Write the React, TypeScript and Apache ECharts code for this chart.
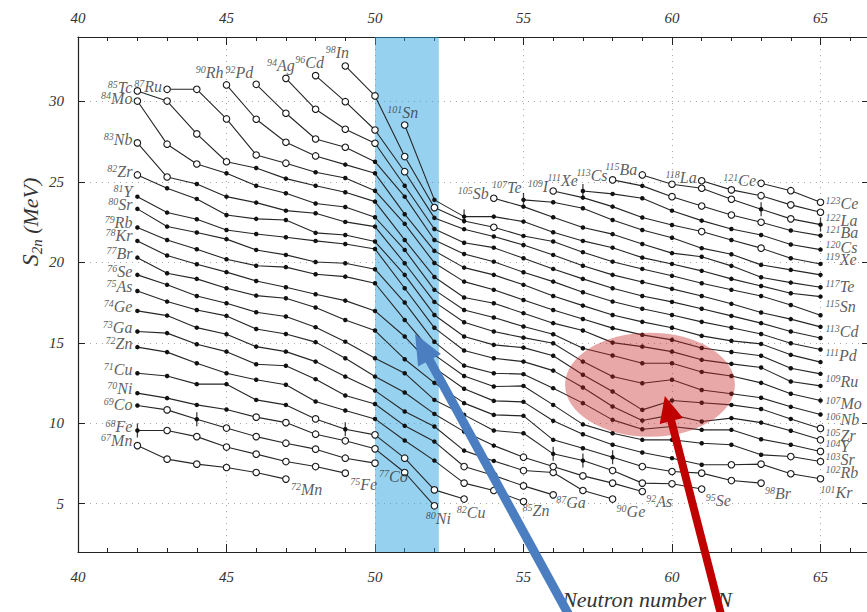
import { useEffect, useRef } from 'react';
import * as echarts from 'echarts';

const SERIF = '"Liberation Serif", "DejaVu Serif", serif';

// ---- isotopic chains ----
const elementSymbols = ['Mn','Fe','Co','Ni','Cu','Zn','Ga','Ge','As','Se','Br','Kr','Rb','Sr','Y','Zr','Nb','Mo','Tc','Ru','Rh','Pd','Ag','Cd','In','Sn','Sb','Te','I','Xe','Cs','Ba','La','Ce'];
const protonNumbers = [25,26,27,28,29,30,31,32,33,34,35,36,37,38,39,40,41,42,43,44,45,46,47,48,49,50,51,52,53,54,55,56,57,58];
const firstNeutronNumber = [42,42,42,42,42,42,42,42,42,42,42,42,42,42,42,42,42,42,42,43,45,46,47,48,49,51,54,55,56,57,58,59,61,63];

// S2n (MeV), one value per neutron number starting at firstNeutronNumber
const s2nMn = [8.61, 7.77, 7.46, 7.25, 6.94, 6.53];
const s2nFe = [9.55, 9.55, 9.17, 8.52, 8.08, 7.62, 7.31, 6.90];
const s2nCo = [11.10, 10.83, 10.25, 9.70, 9.17, 8.76, 8.39, 7.83, 7.52];
const s2nNi = [11.87, 11.56, 11.14, 10.85, 10.38, 10.04, 9.32, 8.91, 8.41, 6.94, 4.87];
const s2nCu = [13.11, 12.94, 12.43, 12.43, 11.45, 11.14, 10.27, 9.63, 9.28, 7.83, 5.86, 5.29];
const s2nZn = [14.73, 14.42, 13.73, 13.11, 12.70, 12.39, 11.35, 10.79, 10.27, 8.93, 7.68, 6.28, 5.82, 5.14];
const s2nGa = [15.70, 15.60, 14.91, 14.45, 13.67, 13.57, 12.74, 11.72, 11.20, 9.84, 8.86, 7.31, 6.75, 6.11, 5.55];
const s2nGe = [16.98, 16.69, 15.94, 15.53, 14.76, 14.45, 13.83, 12.90, 12.03, 10.73, 9.80, 8.30, 7.66, 7.06, 6.94, 5.82, 5.29];
const s2nAs = [18.22, 17.56, 17.04, 16.67, 15.86, 15.55, 15.04, 14.04, 12.90, 11.91, 10.58, 9.48, 8.61, 7.89, 7.31, 6.73, 6.28, 5.76];
const s2nSe = [19.22, 18.60, 17.91, 17.46, 16.90, 16.63, 15.97, 15.07, 14.04, 13.11, 11.45, 10.52, 9.55, 9.38, 8.10, 7.68, 7.06, 6.28, 6.24, 5.91];
const s2nBr = [20.29, 19.32, 18.97, 18.39, 17.93, 17.77, 17.19, 16.42, 15.76, 13.98, 12.51, 11.25, 10.52, 10.46, 8.97, 8.45, 7.89, 7.31, 7.00, 6.90, 6.44, 6.28];
const s2nKr = [21.33, 20.42, 19.88, 19.39, 18.84, 18.45, 18.02, 17.62, 16.98, 15.39, 13.44, 12.14, 11.39, 11.33, 10.15, 9.32, 8.66, 8.18, 7.83, 7.42, 7.42, 7.46, 6.86, 6.55];
const s2nRb = [22.16, 21.39, 20.81, 20.19, 19.79, 19.70, 19.26, 19.11, 18.70, 16.42, 14.25, 12.94, 12.28, 12.32, 11.14, 9.93, 9.38, 8.97, 8.97, 8.76, 8.66, 8.04, 7.93, 7.62];
const s2nSr = [23.32, 22.22, 21.85, 21.44, 20.77, 20.46, 20.02, 19.94, 19.57, 17.50, 15.06, 13.58, 13.11, 13.05, 12.18, 11.25, 10.21, 9.63, 9.80, 9.59, 9.59, 9.01, 8.66, 8.25];
const s2nY = [24.08, 23.09, 22.68, 22.01, 21.76, 21.56, 21.33, 21.14, 20.83, 18.39, 15.93, 14.52, 14.04, 13.83, 13.27, 12.22, 11.04, 10.17, 10.52, 10.11, 10.32, 10.04, 9.53, 8.97];
const s2nZr = [25.43, 24.60, 23.94, 22.94, 22.70, 22.63, 21.83, 21.70, 21.29, 19.22, 16.73, 15.39, 14.87, 14.70, 14.19, 13.01, 11.97, 10.83, 11.41, 11.27, 11.14, 10.89, 10.27, 9.68];
const s2nNb = [27.42, 25.30, 24.87, 24.08, 23.71, 23.21, 23.05, 22.51, 22.22, 19.94, 17.54, 16.28, 15.70, 15.32, 14.97, 13.83, 12.90, 12.49, 12.70, 12.07, 11.83, 11.58, 11.02, 10.54];
const s2nMo = [30.02, 27.34, 26.11, 25.53, 24.76, 24.29, 23.65, 23.44, 22.80, 20.77, 18.29, 17.04, 16.57, 16.01, 15.53, 14.66, 14.21, 13.73, 13.73, 13.19, 12.94, 12.51, 11.83, 11.41];
const s2nTc = [30.65, 30.02, 27.98, 26.25, 25.86, 25.20, 24.76, 24.35, 23.77, 21.39, 19.09, 17.81, 17.46, 16.84, 16.22, 15.76, 15.01, 14.76, 14.45, 13.94, 13.69, 13.46, 12.59, 12.32];
const s2nRu = [30.75, 30.75, 28.91, 26.67, 26.16, 25.60, 25.24, 24.45, 22.39, 19.96, 18.80, 18.29, 17.66, 17.04, 16.48, 15.91, 15.49, 15.18, 14.68, 14.43, 14.19, 13.42, 13.07];
const s2nRh = [31.02, 28.89, 27.46, 26.61, 26.07, 25.53, 22.99, 20.71, 19.67, 19.22, 18.60, 17.91, 17.31, 16.73, 16.30, 15.93, 15.43, 15.12, 14.93, 14.25, 13.80];
const s2nPd = [31.06, 29.26, 27.66, 27.15, 26.25, 24.08, 21.39, 20.52, 20.04, 19.38, 18.80, 18.14, 17.56, 17.11, 16.73, 16.30, 15.93, 15.55, 14.97, 14.58];
const s2nAg = [31.43, 29.51, 28.27, 27.40, 24.76, 22.07, 21.22, 20.91, 20.25, 19.59, 18.97, 18.39, 17.91, 17.54, 17.11, 16.67, 16.22, 15.70, 15.30];
const s2nCd = [31.60, 29.98, 28.22, 25.63, 22.76, 22.06, 21.60, 21.08, 20.46, 19.79, 19.22, 18.78, 18.35, 17.91, 17.42, 16.88, 16.47, 15.99];
const s2nIn = [32.20, 30.34, 26.57, 23.40, 22.57, 22.18, 21.64, 21.29, 20.63, 20.04, 19.59, 19.16, 18.70, 18.29, 17.91, 17.35, 16.71];
const s2nSn = [28.53, 23.88, 22.84, 22.84, 22.53, 21.87, 21.33, 20.91, 20.29, 19.90, 19.47, 18.97, 18.53, 18.08, 17.87];
const s2nSb = [23.98, 23.46, 22.80, 22.16, 21.75, 21.14, 20.57, 20.35, 19.78, 19.07, 18.74, 18.45];
const s2nTe = [23.88, 23.73, 23.36, 22.63, 22.01, 21.53, 20.88, 20.50, 19.84, 19.53, 19.22];
const s2nI = [24.43, 24.02, 23.46, 22.78, 22.32, 21.91, 21.39, 20.88, 20.25, 19.90];
const s2nXe = [24.43, 24.25, 23.98, 23.21, 22.59, 22.07, 21.70, 21.11, 20.79];
const s2nCs = [25.12, 24.75, 24.08, 23.50, 22.94, 22.49, 21.98, 21.66];
const s2nBa = [25.43, 24.85, 24.60, 23.92, 23.30, 22.70, 22.34];
const s2nLa = [25.07, 24.50, 24.14, 23.57, 23.11];
const s2nCe = [24.91, 24.45, 23.73];

const s2nByChain = [s2nMn, s2nFe, s2nCo, s2nNi, s2nCu, s2nZn, s2nGa, s2nGe, s2nAs, s2nSe, s2nBr, s2nKr, s2nRb, s2nSr, s2nY, s2nZr, s2nNb, s2nMo, s2nTc, s2nRu, s2nRh, s2nPd, s2nAg, s2nCd, s2nIn, s2nSn, s2nSb, s2nTe, s2nI, s2nXe, s2nCs, s2nBa, s2nLa, s2nCe];

// neutron numbers drawn as open circles (extrapolated values)
const openMn = [42, 43, 44, 45, 46, 47];
const openFe = [43, 44, 45, 46, 47, 48, 49];
const openCo = [43, 45, 46, 47, 48, 49, 50];
const openNi = [46, 47, 48, 49, 50, 51, 52];
const openCu = [48, 50, 51, 52, 53];
const openZn = [53, 54, 55];
const openGa = [53, 54, 55, 56];
const openGe = [55, 56, 57, 58];
const openAs = [55, 56, 57, 58, 59];
const openSe = [58, 59, 60, 61];
const openBr = [59, 60, 61, 62, 63];
const openKr = [62, 63, 64, 65];
const openRb = [64, 65];
const openSr = [65];
const openY = [65];
const openZr = [42, 65];
const openNb = [42, 43];
const openMo = [42, 43, 44];
const openTc = [42, 43, 44, 45];
const openRu = [43, 44, 45, 46, 47];
const openRh = [45, 46, 47, 48];
const openPd = [46, 47, 48, 49];
const openAg = [47, 48, 49, 50];
const openCd = [48, 49, 50, 51];
const openIn = [49, 50, 51, 52, 54];
const openSn = [51];
const openSb = [54];
const openTe: number[] = [];
const openI = [56, 61, 63];
const openXe: number[] = [];
const openCs = [58, 60, 61, 62, 63];
const openBa = [59, 60, 61, 62, 64];
const openLa = [61, 62, 63, 64, 65];
const openCe = [63, 64, 65];

const openByChain = [openMn, openFe, openCo, openNi, openCu, openZn, openGa, openGe, openAs, openSe, openBr, openKr, openRb, openSr, openY, openZr, openNb, openMo, openTc, openRu, openRh, openPd, openAg, openCd, openIn, openSn, openSb, openTe, openI, openXe, openCs, openBa, openLa, openCe];

// points carrying an error bar: element and N
const errorBarElements = ['Fe', 'Co', 'Cu', 'Sn', 'Te', 'Se', 'Se', 'Br', 'Xe', 'Ba', 'Ba'];
const errorBarNeutrons = [42, 44, 49, 53, 55, 56, 57, 58, 57, 63, 65];

// chains whose last nucleus is labelled
const endLabelledElements = ['Mn','Fe','Co','Ni','Cu','Zn','Ga','Ge','As','Se','Br','Kr','Rb','Sr','Y','Zr','Nb','Mo','Ru','Pd','Cd','Sn','Te','Xe','Cs','Ba','La','Ce'];

// ---- label placement (style only) ----
const startLabelPlacement: Record<string, [string, number, number]> = {
  Mn: ['left', 0, -5], Fe: ['left', 0, -4], Co: ['left', 0, -1], Ni: ['left', 0, -5], Cu: ['left', 0, -4],
  Zn: ['left', 0, -4], Ga: ['left', 0, -4], Ge: ['left', 0, -4], As: ['left', 0, -4], Se: ['left', 0, -3],
  Br: ['left', 0, -4], Kr: ['left', 0, -5], Rb: ['left', 0, -5], Sr: ['left', 0, -4], Y: ['left', 0, -5],
  Zr: ['left', 0, -3], Nb: ['left', 0, -3], Mo: ['left', 0, -3], Tc: ['left', 0, -3], Ru: ['left', 0, -3],
  Rh: ['left', 2, -12], Pd: ['left', 2, -12], Ag: ['top', -5, 0], Cd: ['top', -6, 0], In: ['top', -8, 0],
  Sn: ['top', -2, 0], Sb: ['left', 0, -5], Te: ['left', 3, -12], I: ['left', 0, -5], Xe: ['left', 0, -11],
  Cs: ['left', 0, -4], Ba: ['left', 0, -5], La: ['left', 0, -3], Ce: ['left', 0, -3],
};
const endLabelPlacement: Record<string, [string, number, number]> = {
  Mn: ['right', 0, 10], Fe: ['right', 0, 11], Co: ['right', -1, 13], Ni: ['bottom', 4, 0], Cu: ['bottom', 7, 0],
  Zn: ['right', -6, 9], Ga: ['right', -2, 8], Ge: ['right', -1, 12], As: ['right', -1, 10], Se: ['right', -1, 11],
  Br: ['right', -1, 10], Kr: ['right', -5, 14], Rb: ['right', 0, 11], Sr: ['right', 0, 8], Y: ['right', 0, 7],
  Zr: ['right', 0, 7], Nb: ['right', 0, 5], Mo: ['right', 0, 3], Ru: ['right', 0, 8], Pd: ['right', 0, 6],
  Cd: ['right', 0, 5], Sn: ['right', 0, 10], Te: ['right', 0, 12], Xe: ['right', 0, 10], Cs: ['right', 0, 12],
  Ba: ['right', 0, 8], La: ['right', 0, 8], Ce: ['right', 0, 1],
};

// ---- annotations in data coordinates (N, S2n) ----
const shellBand = [50, 52.15];
const ellipseCenter = [59.26, 12.39];
const ellipseRadii = [2.86, 3.23];
const blueArrowTip = [51.35, 15.55];
const blueArrowTail = [56.73, -2.6];
const redArrowTip = [59.76, 11.7];
const redArrowTail = [61.75, -2.6];

function arrow(tip: number[], tail: number[], color: string, shaftW: number, headL: number, headW: number, z: number) {
  const dx = tip[0] - tail[0];
  const dy = tip[1] - tail[1];
  const len = Math.hypot(dx, dy);
  const ux = dx / len, uy = dy / len;
  const bx = tip[0] - ux * headL, by = tip[1] - uy * headL;
  const px = -uy, py = ux;
  return [
    { type: 'line', z, silent: true, shape: { x1: tail[0], y1: tail[1], x2: bx + ux * 3, y2: by + uy * 3 }, style: { stroke: color, lineWidth: shaftW } },
    { type: 'polygon', z, silent: true, shape: { points: [[tip[0], tip[1]], [bx + px * headW, by + py * headW], [bx - px * headW, by - py * headW]] }, style: { fill: color } },
  ];
}

export default function App() {
  const ref = useRef<HTMLDivElement>(null);

  useEffect(() => {
    if (!ref.current) return;
    const chart = echarts.init(ref.current, null, { renderer: 'svg' });

    const series: any[] = [];
    const labelData: any[] = [];
    const rich = {
      m: { fontSize: 10, fontStyle: 'italic', fontFamily: SERIF, color: '#333', lineHeight: 7, verticalAlign: 'top' },
      e: { fontSize: 16, fontStyle: 'italic', fontFamily: SERIF, color: '#333', lineHeight: 16 },
    };

    elementSymbols.forEach((el, ci) => {
      const n0 = firstNeutronNumber[ci];
      const vals = s2nByChain[ci];
      const open = openByChain[ci];
      const data = vals.map((v, i) => {
        const n = n0 + i;
        if (open.includes(n)) {
          return { value: [n, v], symbolSize: 6.5, itemStyle: { color: '#ffffff', borderColor: '#1a1a1a', borderWidth: 1.1 } };
        }
        return { value: [n, v], symbolSize: 4.5, itemStyle: { color: '#111111', borderWidth: 0 } };
      });
      series.push({
        type: 'line', name: el, data, symbol: 'circle', silent: true, z: 2,
        lineStyle: { color: '#262626', width: 1.1 }, itemStyle: { color: '#111' },
      });
      const z = protonNumbers[ci];
      const sp = startLabelPlacement[el];
      labelData.push({
        value: [n0, vals[0]],
        label: { show: true, position: sp[0], offset: [sp[1], sp[2]], distance: 5, formatter: `{m|${z + n0}}{e|${el}}`, rich },
      });
      if (endLabelledElements.includes(el)) {
        const nl = n0 + vals.length - 1;
        const ep = endLabelPlacement[el];
        labelData.push({
          value: [nl, vals[vals.length - 1]],
          label: { show: true, position: ep[0], offset: [ep[1], ep[2]], distance: 5, formatter: `{m|${z + nl}}{e|${el}}`, rich },
        });
      }
    });

    const errData = errorBarElements.map((el, i) => {
      const ci = elementSymbols.indexOf(el);
      const n = errorBarNeutrons[i];
      return [n, s2nByChain[ci][n - firstNeutronNumber[ci]]];
    });
    series.push({ type: 'scatter', data: errData, symbol: 'rect', symbolSize: [1.3, 14], itemStyle: { color: '#111' }, z: 2, silent: true });
    series.push({ type: 'scatter', data: labelData, symbolSize: 0, z: 3, silent: true });
    series.push({
      type: 'line', data: [], z: 10, silent: true,
      markArea: {
        silent: true, label: { show: false },
        itemStyle: { color: 'rgba(41,163,224,0.49)' },
        data: [[{ xAxis: shellBand[0] }, { xAxis: shellBand[1] }]],
      },
    });

    const axisFont = { fontFamily: SERIF, fontStyle: 'italic', fontSize: 15, color: '#333' };
    const xCommon = {
      type: 'value', min: 40, max: 70, interval: 5,
      axisLine: { show: true, onZero: false, lineStyle: { color: '#222', width: 1.2 } },
      axisTick: { show: true, inside: true, length: 8, lineStyle: { color: '#222', width: 1 } },
      minorTick: { show: true, splitNumber: 5, length: 4, lineStyle: { color: '#222', width: 1 } },
    };

    chart.setOption({
      animation: false,
      backgroundColor: '#ffffff',
      grid: { left: 78, top: 37, right: -102, bottom: 60, containLabel: false, outerBoundsMode: 'none' },
      xAxis: [
        { ...xCommon, position: 'bottom', axisLabel: { ...axisFont, margin: 17, showMaxLabel: false },
          splitLine: { show: true, lineStyle: { color: '#a8a8a8', type: [1, 5], width: 1 } } },
        { ...xCommon, position: 'top', axisLabel: { ...axisFont, margin: 12, showMaxLabel: false }, splitLine: { show: false } },
      ],
      yAxis: [
        {
          type: 'value', min: 2, max: 34, minInterval: 5, maxInterval: 5, position: 'left',
          axisLine: { show: true, onZero: false, lineStyle: { color: '#222', width: 1.2 } },
          axisTick: { show: true, inside: true, length: 7, lineStyle: { color: '#222' } },
          axisLabel: { ...axisFont, margin: 14, showMinLabel: false, showMaxLabel: false },
          splitLine: { show: true, lineStyle: { color: '#a8a8a8', type: [1, 5], width: 1 } },
        },
        {
          type: 'value', min: 2, max: 34, minInterval: 5, maxInterval: 5, position: 'right', offset: -96,
          axisLine: { show: false },
          axisTick: { show: true, inside: true, length: 11, lineStyle: { color: '#222' } },
          axisLabel: { show: false },
          splitLine: { show: false },
        },
      ],
      series,
    });

    const px = (p: number[]) => chart.convertToPixel({ xAxisIndex: 0, yAxisIndex: 0 }, p) as number[];
    const c = px(ellipseCenter);
    const cx2 = px([ellipseCenter[0] + ellipseRadii[0], ellipseCenter[1] + ellipseRadii[1]]);
    const graphic: any[] = [
      { type: 'ellipse', z: 20, silent: true, shape: { cx: c[0], cy: c[1], rx: Math.abs(cx2[0] - c[0]), ry: Math.abs(cx2[1] - c[1]) },
        style: { fill: 'rgba(200,37,37,0.40)' } },
      { type: 'text', z: 25, silent: true, x: 647, y: 599,
        style: { text: 'Neutron number  N', font: `italic 22px ${SERIF}`, fill: '#333', textAlign: 'center', textVerticalAlign: 'middle', align: 'center', verticalAlign: 'middle' } },
      { type: 'text', z: 25, silent: true, x: 30, y: 222, rotation: Math.PI / 2,
        style: {
          text: '{s|S}{b|2n}{u| (MeV)}', fill: '#333', textAlign: 'center', textVerticalAlign: 'middle', align: 'center', verticalAlign: 'middle',
          rich: {
            s: { fontSize: 24, fontStyle: 'italic', fontFamily: SERIF, lineHeight: 28, fill: '#333', color: '#333' },
            b: { fontSize: 15, fontStyle: 'italic', fontFamily: SERIF, lineHeight: 15, verticalAlign: 'bottom', fill: '#333', color: '#333' },
            u: { fontSize: 22, fontStyle: 'italic', fontFamily: SERIF, lineHeight: 28, fill: '#333', color: '#333' },
          },
        } },
      ...arrow(px(blueArrowTip), px(blueArrowTail), '#4a7ec1', 9, 30, 13, 30),
      ...arrow(px(redArrowTip), px(redArrowTail), '#c00000', 8, 26, 12, 31),
    ];
    chart.setOption({ graphic });

    return () => chart.dispose();
  }, []);

  return <div ref={ref} style={{ position: 'fixed', left: 0, top: 0, width: 867, height: 612, background: '#fff' }} />;
}
